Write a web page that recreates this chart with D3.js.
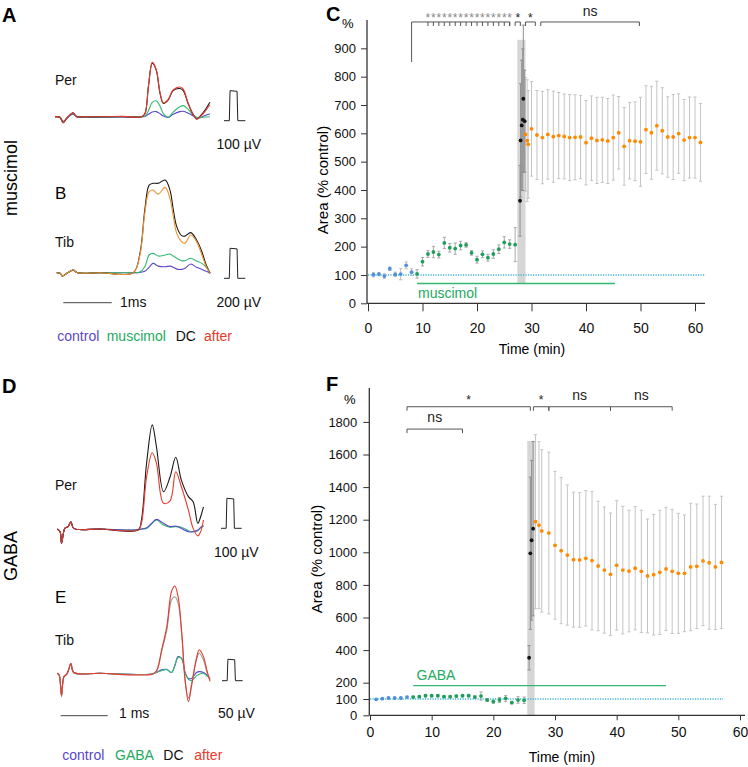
<!DOCTYPE html>
<html><head><meta charset="utf-8">
<script src="https://cdn.jsdelivr.net/npm/d3@7"></script>
<style>
body{margin:0;background:#fff}
svg{display:block}
text{font-family:"Liberation Sans",Arial,Helvetica,sans-serif}
</style>
</head><body>
<svg id="fig" width="748" height="767"></svg>
<script>
// ================= DATA =================
// ---- Panel A (Per, muscimol) : time (ms), amplitude (µV)
const aT      = [0,0.1,0.17,0.24,0.31,0.37,0.45,0.6,1.0,1.4,1.79,1.86,1.93,2.01,2.09,2.17,2.24,2.34,2.44,2.58,2.65,2.75,2.86,2.93,3.0,3.1,3.2];
const aCtrl   = [0,-2,-15,-5,4,8,0,-2,-2,-1,0,1,8,16,17,10,2,-2,8,17,18,12,2,-5,-3,4,9];
const aDrug   = [0,-2,-18,-6,5,11,0,-1,-1,0,0,2,20,48,53,35,10,-2,15,33,37,25,5,-2,-3,-1,0];
const aDC     = [0,-2,-20,-6,6,13,0,0,0,0,0,11,100,178,156,78,44,56,87,94,87,44,6,-8,2,22,48];
const aAfter  = [0,-2,-20,-6,6,13,0,0,0,1,0,11,102,181,158,80,46,58,89,99,92,46,6,-8,0,18,40];
// ---- Panel B (Tib, muscimol)
const bT      = [0,0.07,0.12,0.21,0.28,0.34,0.43,0.9,1.58,1.72,1.82,1.91,1.99,2.1,2.24,2.34,2.41,2.48,2.58,2.65,2.77,2.89,3.0,3.09,3.17];
const bCtrl   = [0,-4,-22,-4,9,18,0,0,0,2,9,36,62,44,40,44,36,24,22,29,58,36,22,9,-4];
const bDrug   = [0,-4,-22,-4,9,18,0,0,0,4,40,118,129,111,118,124,111,96,80,80,96,78,62,36,-4];
const bDC     = [0,-4,-22,-4,9,18,0,0,0,129,418,584,596,596,618,551,418,307,247,244,267,218,140,51,-4];
const bAfter  = [0,-4,-22,-4,9,18,0,0,0,118,396,540,551,524,569,496,373,262,207,196,251,207,118,40,-4];
// ---- Panel D (Per, GABA)
const dT      = [0,0.06,0.09,0.16,0.23,0.29,0.35,0.91,1.72,1.79,1.9,2.02,2.11,2.26,2.40,2.52,2.64,2.79,2.89,2.99,3.05,3.11];
const dCtrl   = [0,-9,-48,2,8,24,2,0,-3,0,4,21,32,19,8,10,2,-9,-9,-3,4,10];
const dDrug   = [0,-9,-48,2,8,24,2,0,-3,0,2,19,30,13,6,8,6,-6,-9,-6,6,13];
const dDC     = [0,-9,-48,2,8,24,2,0,-3,30,219,347,274,124,174,239,163,108,91,19,41,74];
const dAfter  = [0,-9,-48,2,8,24,2,0,-3,19,174,254,219,86,94,191,141,63,2,-23,-9,30];
// ---- Panel E (Tib, GABA)
const eT      = [0,0.04,0.09,0.14,0.2,0.24,0.29,0.35,0.91,2.01,2.11,2.22,2.33,2.43,2.50,2.57,2.65,2.72,2.79,2.86,2.96,3.02,3.11,3.18,3.25];
const eCtrl   = [0,-4,-51,-8,-2,8,23,2,0,-2,2,8,9,2,17,39,33,2,-12,-12,2,4,2,-4,-12];
const eDrug   = [0,-4,-51,-8,-2,8,23,2,0,-2,2,6,9,2,19,37,35,0,-14,-17,-6,-2,0,-6,-12];
const eDC     = [0,-4,-55,-8,-2,8,23,2,0,-2,4,51,101,171,179,164,86,-19,-58,-23,31,47,31,4,-16];
const eAfter  = [0,-4,-51,-8,-2,8,23,2,0,-2,6,55,109,191,204,179,93,-16,-66,-27,35,55,39,8,-19];
// calibration pulse (ms, fraction of calibration)
const calT = [0,0.11,0.125,0.27,0.285,0.44];
const calF = [0,0,1,0.98,0,0];

// ---- Panel C (muscimol time course): time (min), area (% control), SEM
const cCtrlT = [1,2,3,4,5,6,7,8];
const cCtrlV = [101,103,96,122,102,103,134,110];
const cCtrlE = [8,6,8,6,8,20,12,12];
const cMusT  = [9,10,11,12,13,14,15,16,17,18,19,20,21,22,23,24,25,26,27];
const cMusV  = [104,147,174,181,172,213,196,193,204,206,178,154,173,161,174,191,215,209,207];
const cMusE  = [15,15,12,20,12,20,15,20,15,8,8,12,12,12,15,15,20,15,60];
const cDcT   = [27.9,28.0,28.2,28.4,28.5,28.75];
const cDcV   = [362,575,628,648,722,643];
const cDcE   = [125,200,230,250,260,180];
const cAftT  = [28.9,29.2,29.4,30,31,32,33,34,35,36,37,38,39,40,41,42,43,44,45,46,47,48,49,50,51,52,53,54,55,56,57,58,59,60,61];
const cAftV  = [596,574,561,616,594,585,596,588,592,589,585,586,587,567,583,575,577,573,585,602,554,574,572,570,613,602,627,609,587,587,599,576,585,585,568];
const cAftE  = [200,215,190,167,157,163,158,161,152,150,152,150,147,149,149,152,150,150,150,128,137,135,139,157,155,164,157,152,142,150,140,143,143,143,137];
const cTicksX = [0,10,20,30,40,50,60];
const cTicksY = [0,100,200,300,400,500,600,700,800,900];
const cBand = [27.4, 28.9];
const cBandV = [70, 930];
const cDrugLine = [9, 45.3];
const cDrugLineV = 70;
const cStarTicks = [11,12,13,14,15,16,17,18,19,20,21,22,23,24,25,26];
const cBrackets = [[8,26,""],[27,27.95,"*"],[28.9,30.7,"*"],[31.7,49.8,"ns"]];

// ---- Panel F (GABA time course)
const fCtrlT = [1,2,3,4,5,6];
const fCtrlV = [98,102,106,106,106,112];
const fCtrlE = [5,5,5,5,5,5];
const fGabaT = [7,8,9,10,11,12,13,14,15,16,17,18,19,20,21,22,23,24,25];
const fGabaV = [112,114,120,120,120,114,114,118,120,120,112,118,94,84,94,104,78,94,92];
const fGabaE = [6,6,6,6,6,6,6,6,6,6,8,25,8,10,15,18,8,20,20];
const fDcT   = [25.8,26.0,26.2,26.45];
const fDcV   = [353,994,1074,1145];
const fDcE   = [75,467,490,535];
const fAftT  = [26.85,27.4,27.85,29,30,31,32,33,34,35,36,37,38,39,40,41,42,43,44,45,46,47,48,49,50,51,52,53,54,55,56,57];
const fAftV  = [1188,1166,1131,1118,1043,1010,983,955,953,963,949,916,891,865,920,891,885,902,883,855,863,877,898,883,871,871,910,914,947,936,910,938];
const fAftE  = [534,512,498,496,453,448,430,414,413,415,425,397,387,376,397,391,373,378,375,349,370,381,378,381,368,358,391,382,397,408,384,406];
const fTicksX = [0,10,20,30,40,50,60];
const fTicksY = [0,100,200,400,600,800,1000,1200,1400,1600,1800];
const fBand = [25.5, 26.7];
const fBandV = [0, 1683];
const fDrugLine = [7, 48];
const fDrugLineV = 182;
const fBrackets = [[6,26,"*",1893],[26.5,29,"*",1893],[29,39,"ns",1893],[39,49,"ns",1893],[6,15,"ns",1756]];

// ================= COLORS =================
const colCtrlTrace = "#5a48c8", colDrugTrace = "#33b874", colDC = "#1a1a1a",
      colAfter = "#e8392b", colAfterB = "#f0922c", colDCgrey = "#9a9a9a";
const colPtCtrl = "#4f90d8", colPtDrug = "#1e9e5a", colPtAft = "#ff8a00";

const svg = d3.select("#fig");

// ================= TRACE PANELS =================
function tracePanel(cfg){
  const g = svg.append("g");
  const x = d3.scaleLinear().domain([0,1]).range([cfg.x0, cfg.x0 + cfg.pxPerMs]);
  const y = d3.scaleLinear().domain([0,100]).range([cfg.y0, cfg.y0 - 100*cfg.pxPerUv]);
  const line = d3.line().x((d,i)=>x(cfg.t[i])).y(d=>y(d)).curve(d3.curveCatmullRom.alpha(0.5));
  cfg.traces.forEach(tr=>{
    g.append("path").datum(tr.v).attr("d", line).attr("fill","none")
      .attr("stroke", tr.c).attr("stroke-width", 1.1).attr("stroke-linejoin","round");
  });
  const cx = d3.scaleLinear().domain([0,1]).range([cfg.calX, cfg.calX + cfg.pxPerMs]);
  const cy = d3.scaleLinear().domain([0,1]).range([cfg.calY, cfg.calY - cfg.calVal*cfg.pxPerUv]);
  g.append("path").datum(calF).attr("d", d3.line().x((d,i)=>cx(calT[i])).y(d=>cy(d)))
    .attr("fill","none").attr("stroke","#222").attr("stroke-width",1);
  g.append("text").attr("x", cfg.calTextX).attr("y", cfg.calTextY).attr("font-size",14)
    .attr("fill","#111").text(cfg.calVal + " µV");
  g.append("text").attr("x", 55).attr("y", cfg.nameY).attr("font-size",14).attr("fill","#111").text(cfg.name);
  if (cfg.msBar){
    g.append("line").attr("x1", cfg.msBar[0]).attr("x2", cfg.msBar[0] + cfg.pxPerMs)
      .attr("y1", cfg.msBar[1]).attr("y2", cfg.msBar[1]).attr("stroke","#444").attr("stroke-width",1);
    g.append("text").attr("x", cfg.msBar[2]).attr("y", cfg.msBar[3]).attr("font-size",14).attr("fill","#111").text(cfg.msBar[4]);
  }
}

tracePanel({x0:55, y0:116.7, pxPerMs:48.4, pxPerUv:0.30, t:aT,
  traces:[{v:aCtrl,c:colCtrlTrace},{v:aDrug,c:colDrugTrace},{v:aDC,c:colDC},{v:aAfter,c:colAfter}],
  calX:224, calY:120.7, calVal:100, calTextX:216.5, calTextY:148.5, name:"Per", nameY:84.5});
tracePanel({x0:56.7, y0:272.7, pxPerMs:48.4, pxPerUv:0.15, t:bT,
  traces:[{v:bCtrl,c:colCtrlTrace},{v:bDrug,c:colDrugTrace},{v:bDC,c:colDC},{v:bAfter,c:colAfterB}],
  calX:224, calY:278.3, calVal:200, calTextX:216.5, calTextY:307, name:"Tib", nameY:247,
  msBar:[63.3,302.7,120,307,"1ms"]});
tracePanel({x0:57.3, y0:529, pxPerMs:47, pxPerUv:0.30, t:dT,
  traces:[{v:dDrug,c:colDrugTrace},{v:dCtrl,c:colCtrlTrace},{v:dDC,c:colDC},{v:dAfter,c:colAfter}],
  calX:221, calY:528.3, calVal:100, calTextX:214, calTextY:556.7, name:"Per", nameY:490});
tracePanel({x0:57.3, y0:673.3, pxPerMs:47, pxPerUv:0.428, t:eT,
  traces:[{v:eCtrl,c:colCtrlTrace},{v:eDrug,c:colDrugTrace},{v:eDC,c:colDCgrey},{v:eAfter,c:colAfter}],
  calX:222, calY:680.7, calVal:50, calTextX:218, calTextY:718, name:"Tib", nameY:645,
  msBar:[60.7,715.7,119,718,"1 ms"]});

// panel letters & side labels
svg.append("text").attr("x",2).attr("y",21.5).attr("font-size",20).attr("font-weight","bold").text("A");
svg.append("text").attr("x",55).attr("y",199).attr("font-size",17).text("B");
svg.append("text").attr("x",2).attr("y",393).attr("font-size",20).attr("font-weight","bold").text("D");
svg.append("text").attr("x",55).attr("y",602.5).attr("font-size",17).text("E");
svg.append("text").attr("x",326).attr("y",21).attr("font-size",20).attr("font-weight","bold").text("C");
svg.append("text").attr("x",326).attr("y",391).attr("font-size",20).attr("font-weight","bold").text("F");
svg.append("text").attr("transform","translate(17,178) rotate(-90)").attr("text-anchor","middle").attr("font-size",18).text("muscimol");
svg.append("text").attr("transform","translate(17,556) rotate(-90)").attr("text-anchor","middle").attr("font-size",18).text("GABA");

// legends
function legend(items, yb){
  items.forEach(it=>svg.append("text").attr("x",it[1]).attr("y",yb).attr("font-size",14).attr("fill",it[2]).text(it[0]));
}
legend([["control",57.3,"#5a48c8"],["muscimol",106.7,"#22aa5f"],["DC",175.7,"#111"],["after",204,"#e8392b"]], 340.5);
legend([["control",62.3,"#5a48c8"],["GABA",115,"#22aa5f"],["DC",163.3,"#111"],["after",194.3,"#e8392b"]], 760);

// ================= TIME COURSE PANELS =================
function timePanel(cfg){
  const g = svg.append("g");
  const x = cfg.x, y = cfg.y;
  g.append("rect").attr("x", x(cfg.band[0])).attr("width", x(cfg.band[1]) - x(cfg.band[0]))
    .attr("y", y(cfg.bandV[1])).attr("height", y(cfg.bandV[0]) - y(cfg.bandV[1])).attr("fill","#d6d6d6");
  g.append("line").attr("x1", x(0)).attr("x2", cfg.baseEnd).attr("y1", y(100)).attr("y2", y(100))
    .attr("stroke","#3db6e0").attr("stroke-width",1.4).attr("stroke-dasharray","1.2,1.3");
  g.append("line").attr("x1", x(cfg.drug[0])).attr("x2", x(cfg.drug[1])).attr("y1", y(cfg.drugV)).attr("y2", y(cfg.drugV))
    .attr("stroke","#33b874").attr("stroke-width",1.4);
  g.append("text").attr("x", cfg.drugText[0]).attr("y", cfg.drugText[1]).attr("font-size",14).attr("fill","#22aa5f").text(cfg.drugText[2]);
  cfg.series.forEach(s=>{
    s.t.forEach((t,i)=>{
      const xx = x(t), y1 = y(s.v[i]-s.e[i]), y2 = y(s.v[i]+s.e[i]);
      g.append("line").attr("x1",xx).attr("x2",xx).attr("y1",y1).attr("y2",y2).attr("stroke",s.bc).attr("stroke-width",1);
      [y1,y2].forEach(yy=>g.append("line").attr("x1",xx-1.6).attr("x2",xx+1.6).attr("y1",yy).attr("y2",yy).attr("stroke",s.bc).attr("stroke-width",1));
    });
  });
  cfg.series.forEach(s=>{
    s.t.forEach((t,i)=>{
      g.append("circle").attr("cx",x(t)).attr("cy",y(s.v[i])).attr("r",1.9).attr("fill",s.c);
    });
  });
  const ay = d3.axisLeft(y).tickValues(cfg.ticksY).tickFormat(d3.format("d")).tickSize(6).tickPadding(cfg.padY);
  const gy = g.append("g").attr("transform",`translate(${cfg.axX},0)`).call(ay);
  gy.select(".domain").remove();
  gy.selectAll("text").attr("font-size",13).attr("fill","#111").attr("font-family",null);
  gy.selectAll("line").attr("stroke","#333");
  g.append("line").attr("x1",cfg.axX).attr("x2",cfg.axX).attr("y1",cfg.axTop).attr("y2",y(0)).attr("stroke","#333").attr("stroke-width",1.3);
  const ax = d3.axisBottom(x).tickValues(cfg.ticksX).tickFormat(d3.format("d")).tickSize(cfg.tickX).tickPadding(cfg.padX);
  const gx = g.append("g").attr("transform",`translate(0,${y(0)})`).call(ax);
  gx.select(".domain").remove();
  gx.selectAll("text").attr("font-size",14).attr("fill","#111").attr("font-family",null);
  gx.selectAll("line").attr("stroke","#333");
  g.append("line").attr("x1",cfg.axX).attr("x2",cfg.axRight).attr("y1",y(0)).attr("y2",y(0)).attr("stroke","#333").attr("stroke-width",1.3);
  g.append("text").attr("x",cfg.pct[0]).attr("y",cfg.pct[1]).attr("font-size",13).text("%");
  g.append("text").attr("transform",`translate(${cfg.ytitleX},${cfg.ytitleY}) rotate(-90)`).attr("text-anchor","middle").attr("font-size",15).text("Area (% control)");
  g.append("text").attr("x",cfg.xtitle[0]).attr("y",cfg.xtitle[1]).attr("text-anchor","middle").attr("font-size",14).text("Time (min)");
  return g;
}

// ---- C
const xC = d3.scaleLinear().domain([0,60]).range([368,695]);
const yC = d3.scaleLinear().domain([0,1000]).range([303.3,20]);
const gC = timePanel({x:xC, y:yC, band:cBand, bandV:cBandV, baseEnd:705, drug:cDrugLine, drugV:cDrugLineV,
  drugText:[418,298,"muscimol"],
  series:[
    {t:cCtrlT,v:cCtrlV,e:cCtrlE,c:colPtCtrl,bc:"#bdbdbd"},
    {t:cMusT,v:cMusV,e:cMusE,c:colPtDrug,bc:"#a8a8a8"},
    {t:cAftT,v:cAftV,e:cAftE,c:colPtAft,bc:"#c4c4c4"},
    {t:cDcT,v:cDcV,e:cDcE,c:"#111",bc:"#8f8f8f"}],
  ticksY:cTicksY, ticksX:cTicksX, padY:5, padX:11.5, tickX:8, axX:367, axTop:20, axRight:705,
  pct:[342,28], ytitleX:328, ytitleY:180, xtitle:[532,354]});
const yBr = yC(993);
cBrackets.forEach((b,i)=>{
  const x0 = xC(b[0]), x1 = xC(b[1]);
  gC.append("path").attr("d", i===0
      ? `M${x0},${yC(852)}V${yBr}H${x1}V${yBr+4}`
      : `M${x0},${yBr+4}V${yBr}H${x1}V${yBr+4}`)
    .attr("fill","none").attr("stroke","#555").attr("stroke-width",1);
  if (b[2]) gC.append("text").attr("x",(x0+x1)/2).attr("y", b[2]==="ns"?16:22).attr("text-anchor","middle")
      .attr("font-size", b[2]==="ns"?14:12).attr("fill","#222").text(b[2]);
});
cStarTicks.forEach(t=>{
  gC.append("line").attr("x1",xC(t)).attr("x2",xC(t)).attr("y1",yBr).attr("y2",yBr+4).attr("stroke","#555").attr("stroke-width",1);
  gC.append("text").attr("x",xC(t)).attr("y",22).attr("text-anchor","middle").attr("font-size",12).attr("fill","#888").text("*");
});

// ---- F
const xF = d3.scaleLinear().domain([0,60]).range([370,740]);
const yF = d3.scaleLinear().domain([0,2000]).range([715.3,389.3]);
const gF = timePanel({x:xF, y:yF, band:fBand, bandV:fBandV, baseEnd:723, drug:fDrugLine, drugV:fDrugLineV,
  drugText:[416.5,680,"GABA"],
  series:[
    {t:fCtrlT,v:fCtrlV,e:fCtrlE,c:colPtCtrl,bc:"#c8c8c8"},
    {t:fGabaT,v:fGabaV,e:fGabaE,c:colPtDrug,bc:"#a8a8a8"},
    {t:fAftT,v:fAftV,e:fAftE,c:colPtAft,bc:"#c4c4c4"},
    {t:fDcT,v:fDcV,e:fDcE,c:"#111",bc:"#8f8f8f"}],
  ticksY:fTicksY, ticksX:fTicksX, padY:6, padX:6.5, tickX:5, axX:369.3, axTop:388, axRight:745,
  pct:[344,404], ytitleX:322, ytitleY:559, xtitle:[562,762]});
fBrackets.forEach(b=>{
  const x0 = xF(b[0]), x1 = xF(b[1]), yy = yF(b[3]);
  gF.append("path").attr("d",`M${x0},${yy+4}V${yy}H${x1}V${yy+4}`).attr("fill","none").attr("stroke","#555").attr("stroke-width",1);
  gF.append("text").attr("x",(x0+x1)/2).attr("y", b[2]==="ns" ? yy-7 : yy-3).attr("text-anchor","middle")
    .attr("font-size", b[2]==="ns"?14:12).attr("fill","#222").text(b[2]);
});
</script>
</body></html>
